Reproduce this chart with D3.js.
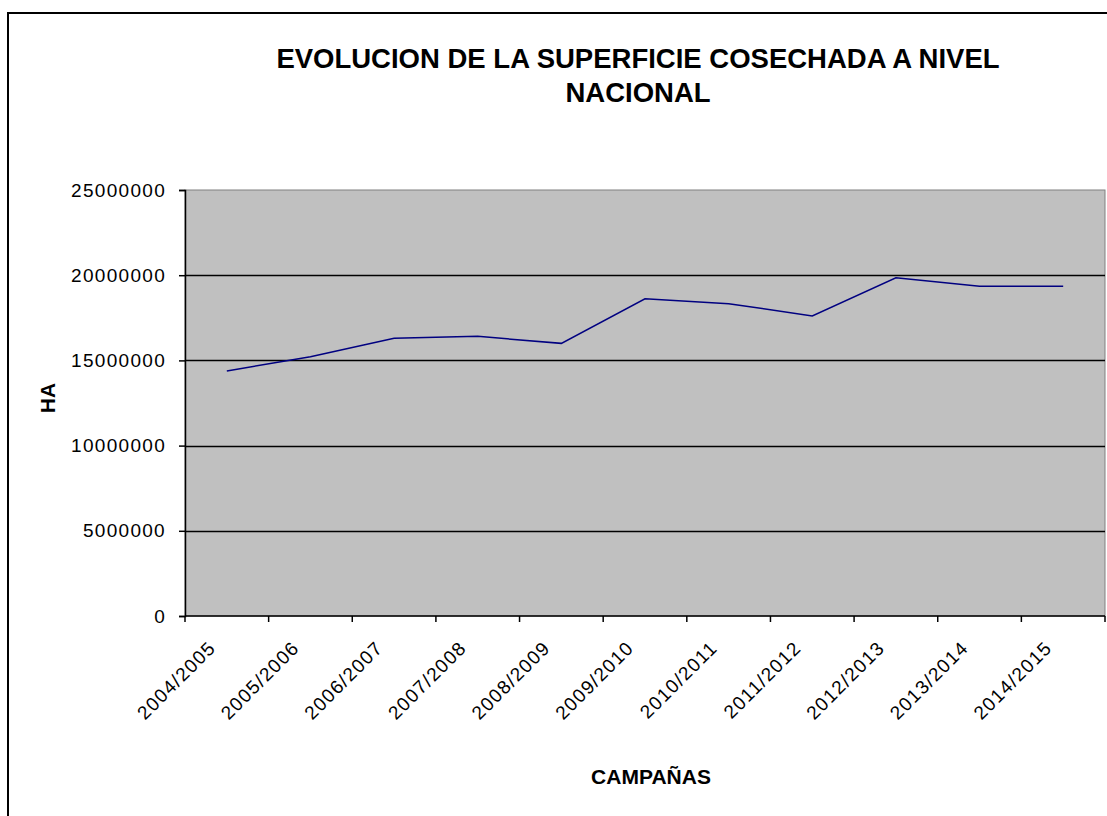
<!DOCTYPE html>
<html><head><meta charset="utf-8">
<script src="https://cdn.jsdelivr.net/npm/d3@7"></script>
<style>body{margin:0;background:#fff}svg{display:block}text{font-family:"Liberation Sans",Arial,sans-serif}</style>
</head><body>
<script>
const categories = ["2004/2005","2005/2006","2006/2007","2007/2008","2008/2009","2009/2010","2010/2011","2011/2012","2012/2013","2013/2014","2014/2015"];
const values = [14380000,15220000,16300000,16410000,16000000,18620000,18330000,17610000,19850000,19350000,19350000];
const yTicks = [0,5000000,10000000,15000000,20000000,25000000];
const titleLines = ["EVOLUCION DE LA SUPERFICIE COSECHADA A NIVEL","NACIONAL"];

const W=1107,H=816;
const svg=d3.select("body").append("svg").attr("width",W).attr("height",H);
svg.append("rect").attr("x",8).attr("y",13).attr("width",W+10).attr("height",H+10).attr("fill","#fff").attr("stroke","#000").attr("stroke-width",2);

const L=185,R=1105,T=190,B=616;
const x=d3.scaleBand().domain(categories).range([L,R]);
const y=d3.scaleLinear().domain([0,25000000]).range([B,T]);

svg.append("rect").attr("x",L).attr("y",T).attr("width",R-L).attr("height",B-T).attr("fill","#c0c0c0").attr("stroke","#808080").attr("stroke-width",1);

svg.append("g").selectAll("line").data(yTicks.slice(1,-1)).join("line")
 .attr("x1",L).attr("x2",R).attr("y1",d=>Math.round(y(d))+0.5).attr("y2",d=>Math.round(y(d))+0.5)
 .attr("stroke","#000").attr("stroke-width",1.5);

const yAx=svg.append("g").attr("transform",`translate(${L},0)`)
 .call(d3.axisLeft(y).tickValues(yTicks).tickSize(6).tickPadding(13).tickFormat(d3.format("d")));
yAx.attr("font-size",19).attr("font-family","'Liberation Sans',Arial,sans-serif");
yAx.select(".domain").attr("stroke","#000").attr("stroke-width",1.5);
yAx.selectAll(".tick line").attr("stroke","#000").attr("stroke-width",1.5);
yAx.selectAll("text").attr("fill","#000").style("font-size","19px").style("letter-spacing","1.3px");

const xAx=svg.append("g").attr("transform",`translate(0,${B})`);
xAx.append("line").attr("x1",L).attr("x2",R).attr("y1",0).attr("y2",0).attr("stroke","#000").attr("stroke-width",1.5);
const edges=categories.map(c=>x(c)).concat([R]);
xAx.selectAll("line.t").data(edges).join("line").attr("class","t")
 .attr("x1",d=>d).attr("x2",d=>d).attr("y1",0).attr("y2",6).attr("stroke","#000").attr("stroke-width",1.5);
xAx.selectAll("text").data(categories).join("text")
 .attr("transform",d=>`translate(${x(d)+x.bandwidth()/2-10},${33}) rotate(-45)`)
 .attr("text-anchor","end").style("font-size","19px").style("letter-spacing","1.3px").attr("fill","#000").text(d=>d);

const line=d3.line().x((d,i)=>x(categories[i])+x.bandwidth()/2).y(d=>y(d));
svg.append("path").datum(values).attr("d",line).attr("fill","none").attr("stroke","#000080").attr("stroke-width",1.5);

svg.append("g").selectAll("text").data(titleLines).join("text")
 .attr("x",638).attr("y",(d,i)=>68+i*34).attr("text-anchor","middle")
 .style("font-size","27.5px").attr("font-weight","bold").text(d=>d);

svg.append("text").attr("transform","translate(55,398) rotate(-90)").attr("text-anchor","middle")
 .style("font-size","21px").attr("font-weight","bold").text("HA");
svg.append("text").attr("x",651).attr("y",784).attr("text-anchor","middle")
 .style("font-size","21px").attr("font-weight","bold").text("CAMPAÑAS");
</script>
</body></html>
